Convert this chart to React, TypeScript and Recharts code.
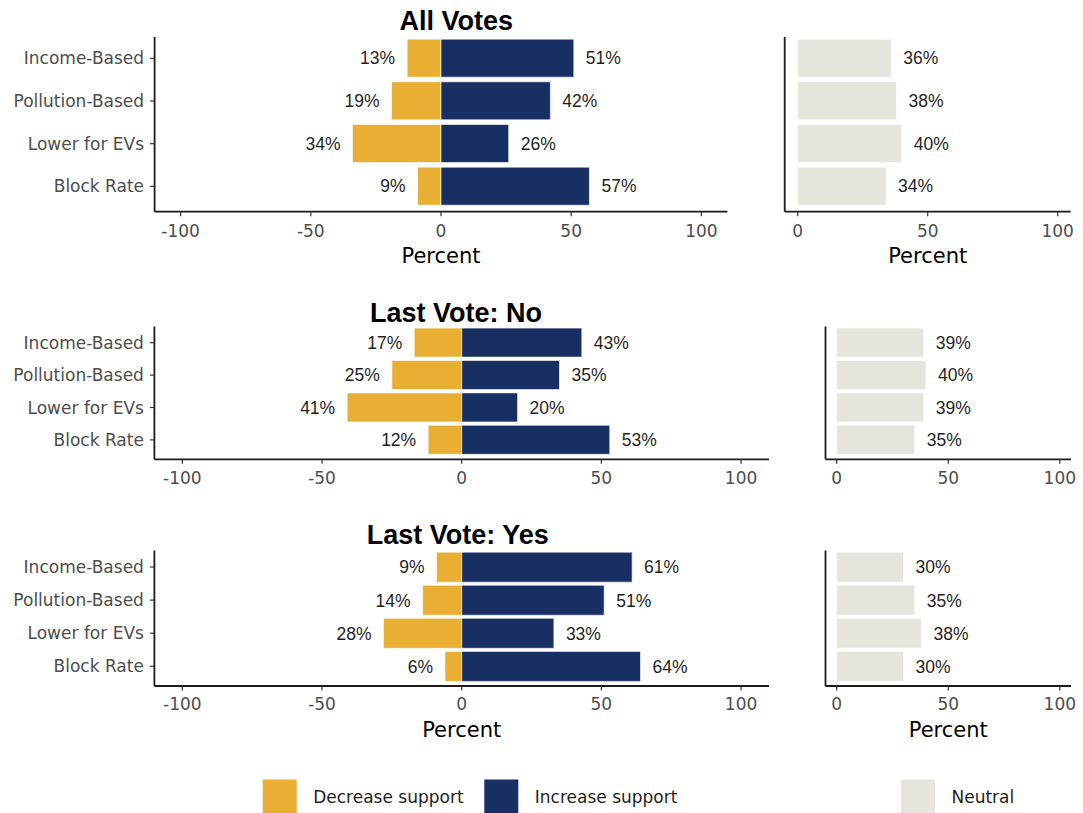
import React from 'react';
import { BarChart, Bar, XAxis, YAxis, LabelList } from 'recharts';

const CATEGORIES = ['Income-Based', 'Pollution-Based', 'Lower for EVs', 'Block Rate'];

const ALL_DECREASE = [13, 19, 34, 9];
const ALL_INCREASE = [51, 42, 26, 57];
const ALL_NEUTRAL = [36, 38, 40, 34];

const NO_DECREASE = [17, 25, 41, 12];
const NO_INCREASE = [43, 35, 20, 53];
const NO_NEUTRAL = [39, 40, 39, 35];

const YES_DECREASE = [9, 14, 28, 6];
const YES_INCREASE = [61, 51, 33, 64];
const YES_NEUTRAL = [30, 35, 38, 30];

const PANEL_TITLES = ['All Votes', 'Last Vote: No', 'Last Vote: Yes'];
const LEFT_TICKS = [-100, -50, 0, 50, 100];
const RIGHT_TICKS = [0, 50, 100];
const LEFT_DOMAIN = [-110, 110];
const RIGHT_DOMAIN = [-5, 105];
const AXIS_TITLE = 'Percent';
const LEGEND_LABELS = ['Decrease support', 'Increase support', 'Neutral'];

const ORANGE = '#E9AF33';
const NAVY = '#182F63';
const NEUTRAL = '#E5E5DD';
const TICK_FONT = "'DejaVu Sans', sans-serif";
const LABEL_FONT = "'Liberation Sans', Arial, sans-serif";

const buildRows = (dec: number[], inc: number[], neu: number[]) =>
  CATEGORIES.map((name, i) => ({ name, dec: -dec[i], inc: inc[i], neu: neu[i] }));

const PANELS = [
  {
    title: PANEL_TITLES[0],
    rows: buildRows(ALL_DECREASE, ALL_INCREASE, ALL_NEUTRAL),
    top: 0, height: 280, marginTop: 37, padBottom: 4.0, xAxisHeight: 68.3, tickMargin: 9,
    showTitle: true, percentOffset: 17,
    leftWidth: 745, leftYW: 154.6, leftMR: 17.6,
    rightYW: 24.7, rightMR: 12.3,
    titleX: 399.5, titleY: 30.3,
  },
  {
    title: PANEL_TITLES[1],
    rows: buildRows(NO_DECREASE, NO_INCREASE, NO_NEUTRAL),
    top: 290, height: 200, marginTop: 36.5, padBottom: 3.2, xAxisHeight: 30.7, tickMargin: 8,
    showTitle: false, percentOffset: 0,
    leftWidth: 785, leftYW: 154.4, leftMR: 16,
    rightYW: 65.5, rightMR: 12,
    titleX: 370, titleY: 321.7,
  },
  {
    title: PANEL_TITLES[2],
    rows: buildRows(YES_DECREASE, YES_INCREASE, YES_NEUTRAL),
    top: 515, height: 230, marginTop: 35.5, padBottom: 3.2, xAxisHeight: 59, tickMargin: 7.5,
    showTitle: true, percentOffset: 8.3,
    leftWidth: 785, leftYW: 154.4, leftMR: 16,
    rightYW: 65.5, rightMR: 12,
    titleX: 366.7, titleY: 544.3,
  },
];

const makeLabel = (side: 'left' | 'right') => (props: any) => {
  const vb = props.viewBox || {};
  const x = Number(props.x ?? vb.x);
  const y = Number(props.y ?? vb.y);
  const w = Number(props.width ?? vb.width);
  const h = Number(props.height ?? vb.height);
  const v = Number(props.value);
  const l = Math.min(x, x + w);
  const r = Math.max(x, x + w);
  const tx = side === 'left' ? l - 12 : r + 12;
  return (
    <text
      x={tx}
      y={y + h / 2}
      dy="0.36em"
      textAnchor={side === 'left' ? 'end' : 'start'}
      fill="#1f1f1f"
      fontSize={17.5}
      fontFamily={LABEL_FONT}
    >
      {Math.abs(v)}%
    </text>
  );
};

const axisLine = { stroke: '#1a1a1a', strokeWidth: 1.8 };
const tickLine = { stroke: '#333333', strokeWidth: 1.2 };
const tickStyle = { fill: '#4d4d4d', fontSize: 17, fontFamily: TICK_FONT };

function Panel({ p }: { p: any }) {
  const percentLabel = p.showTitle
    ? { value: AXIS_TITLE, position: 'insideBottom', offset: p.percentOffset, fill: '#000', fontSize: 21, fontFamily: TICK_FONT }
    : undefined;
  return (
    <>
      <div style={{ position: 'absolute', left: 0, top: p.top }}>
        <BarChart
          width={p.leftWidth}
          height={p.height}
          data={p.rows}
          layout="vertical"
          stackOffset="sign"
          barCategoryGap="5%"
          margin={{ top: p.marginTop, right: p.leftMR, left: 0, bottom: 0 }}
        >
          <XAxis
            type="number"
            domain={LEFT_DOMAIN}
            ticks={LEFT_TICKS}
            allowDataOverflow
            height={p.xAxisHeight}
            tickSize={4.5}
            tickMargin={p.tickMargin}
            axisLine={axisLine}
            tickLine={tickLine}
            tick={tickStyle}
            label={percentLabel as any}
          />
          <YAxis
            type="category"
            dataKey="name"
            width={p.leftYW}
            padding={{ top: 0, bottom: p.padBottom }}
            tickSize={4.5}
            tickMargin={6}
            axisLine={axisLine}
            tickLine={tickLine}
            tick={tickStyle}
            interval={0}
          />
          <Bar dataKey="dec" stackId="s" fill={ORANGE} stroke="#ffffff" strokeOpacity={0.6} strokeWidth={1} isAnimationActive={false}>
            <LabelList dataKey="dec" content={makeLabel('left')} />
          </Bar>
          <Bar dataKey="inc" stackId="s" fill={NAVY} stroke="#ffffff" strokeOpacity={0.6} strokeWidth={1} isAnimationActive={false}>
            <LabelList dataKey="inc" content={makeLabel('right')} />
          </Bar>
        </BarChart>
      </div>
      <div style={{ position: 'absolute', left: 760, top: p.top }}>
        <BarChart
          width={323}
          height={p.height}
          data={p.rows}
          layout="vertical"
          barCategoryGap="5%"
          margin={{ top: p.marginTop, right: p.rightMR, left: 0, bottom: 0 }}
        >
          <XAxis
            type="number"
            domain={RIGHT_DOMAIN}
            ticks={RIGHT_TICKS}
            allowDataOverflow
            height={p.xAxisHeight}
            tickSize={4.5}
            tickMargin={p.tickMargin}
            axisLine={axisLine}
            tickLine={tickLine}
            tick={tickStyle}
            label={percentLabel as any}
          />
          <YAxis
            type="category"
            dataKey="name"
            width={p.rightYW}
            padding={{ top: 0, bottom: p.padBottom }}
            axisLine={axisLine}
            tickLine={false}
            tick={false}
          />
          <Bar dataKey="neu" fill={NEUTRAL} stroke="#ffffff" strokeOpacity={0.6} strokeWidth={1} isAnimationActive={false}>
            <LabelList dataKey="neu" content={makeLabel('right')} />
          </Bar>
        </BarChart>
      </div>
    </>
  );
}

export default function App() {
  const legendItems = [
    { label: LEGEND_LABELS[0], color: ORANGE, x: 262.7 },
    { label: LEGEND_LABELS[1], color: NAVY, x: 484.3 },
    { label: LEGEND_LABELS[2], color: NEUTRAL, x: 901 },
  ];
  return (
    <div style={{ position: 'absolute', left: 0, top: 0, width: 1083, height: 813, background: '#fff', overflow: 'hidden' }}>
      {PANELS.map((p, i) => (
        <Panel key={i} p={p} />
      ))}
      <svg width={1083} height={813} style={{ position: 'absolute', left: 0, top: 0, pointerEvents: 'none' }}>
        {PANELS.map((p, i) => (
          <text
            key={i}
            x={p.titleX}
            y={p.titleY}
            fontSize={27}
            fontWeight="bold"
            fontFamily={LABEL_FONT}
            fill="#000"
          >
            {p.title}
          </text>
        ))}
        {legendItems.map((it, i) => (
          <g key={i}>
            <rect x={it.x} y={779.5} width={34} height={34} fill={it.color} />
            <text x={it.x + 50.5} y={803.3} fontSize={17} fontFamily={TICK_FONT} fill="#1f1f1f">
              {it.label}
            </text>
          </g>
        ))}
      </svg>
    </div>
  );
}
